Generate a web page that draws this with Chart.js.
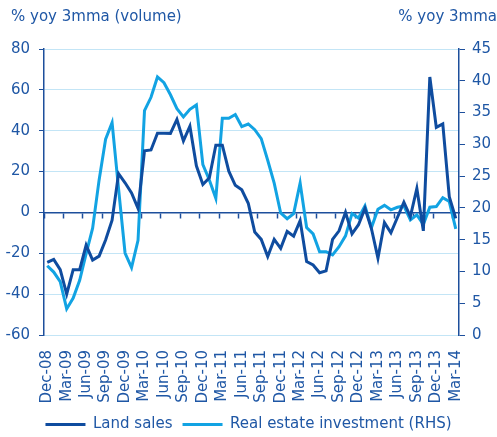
<!DOCTYPE html>
<html>
<head>
<meta charset="utf-8">
<script src="https://cdn.jsdelivr.net/npm/chart.js@4.4.1/dist/chart.umd.min.js"></script>
<style>
  body { margin: 0; background: #fff; }
  #wrap { position: relative; width: 497px; height: 437px; }
  .axis-title {
    position: absolute; top: 7px; line-height: 15px; white-space: nowrap;
    font: 15px 'DejaVu Sans', sans-serif; color: #1f57a5;
  }
  #titleLeft { left: 11px; }
  #titleRight { right: 0; }
</style>
</head>
<body>
<div id="wrap">
  <canvas id="chart"></canvas>
  <div class="axis-title" id="titleLeft">% yoy 3mma (volume)</div>
  <div class="axis-title" id="titleRight">% yoy 3mma</div>
</div>
<script>
// monthly categories, Dec-08 .. Mar-14
const months = [
  'Dec-08', 'Jan-09', 'Feb-09', 'Mar-09', 'Apr-09', 'May-09', 'Jun-09', 'Jul-09', 'Aug-09', 'Sep-09', 'Oct-09', 'Nov-09',
  'Dec-09', 'Jan-10', 'Feb-10', 'Mar-10', 'Apr-10', 'May-10', 'Jun-10', 'Jul-10', 'Aug-10', 'Sep-10', 'Oct-10', 'Nov-10',
  'Dec-10', 'Jan-11', 'Feb-11', 'Mar-11', 'Apr-11', 'May-11', 'Jun-11', 'Jul-11', 'Aug-11', 'Sep-11', 'Oct-11', 'Nov-11',
  'Dec-11', 'Jan-12', 'Feb-12', 'Mar-12', 'Apr-12', 'May-12', 'Jun-12', 'Jul-12', 'Aug-12', 'Sep-12', 'Oct-12', 'Nov-12',
  'Dec-12', 'Jan-13', 'Feb-13', 'Mar-13', 'Apr-13', 'May-13', 'Jun-13', 'Jul-13', 'Aug-13', 'Sep-13', 'Oct-13', 'Nov-13',
  'Dec-13', 'Jan-14', 'Feb-14', 'Mar-14'
];

// Land sales, % yoy 3mma (left axis)
const landSales = [
  -24.5, -23, -28, -40, -28, -28, -16, -23.3, -21.4, -13.5, -3.8, 19,
  14.5, 9.5, 2, 30.2, 30.6, 38.8, 38.8, 38.7, 45.5, 35, 42.2, 22.8,
  13.7, 17, 32.9, 32.9, 20.2, 13.3, 11.1, 4.5, -9.6, -13.2, -21.6, -13.2,
  -17.6, -9.3, -11.6, -4, -24, -25.7, -29.5, -28.6, -13.2, -9, 0, -10.5,
  -6, 2, -8, -22.4, -5, -10, -2.5, 5, -2, 11.7, -9, 66.3,
  41.6, 43.3, 7.7, -2.9
];

// Real estate investment, % yoy 3mma (right axis)
const realEstate = [
  10.9, 9.9, 8.4, 4.1, 5.8, 8.6, 12.8, 16.8, 24.4, 30.8, 33.4, 23,
  12.9, 10.6, 14.9, 35.3, 37.4, 40.6, 39.7, 37.8, 35.6, 34.3, 35.5, 36.2,
  26.8, 24.4, 21.5, 34.1, 34.1, 34.7, 32.8, 33.2, 32.3, 30.9, 27.5, 23.9,
  19.2, 18.3, 19.1, 23.9, 16.9, 15.9, 13.1, 13.1, 12.6, 13.9, 15.6, 19.1,
  18.4, 20.3, 16.9, 19.8, 20.4, 19.7, 20.1, 20.3, 18.1, 18.9, 17.4, 20.1,
  20.2, 21.6, 21, 16.7
];

const leftTicks = [-60, -40, -20, 0, 20, 40, 60, 80];
const rightTicks = [0, 5, 10, 15, 20, 25, 30, 35, 40, 45];

const darkBlue = '#0f4c9f';
const lightBlue = '#12a3e3';
const axisBlue = '#1d4f9c';
const textBlue = '#1f57a5';
const gridBlue = '#c3e5f6';

Chart.defaults.font.family = "'DejaVu Sans', sans-serif";
Chart.defaults.font.size = 15;
Chart.defaults.color = textBlue;

const ctx = document.getElementById('chart').getContext('2d');
new Chart(ctx, {
  type: 'line',
  data: {
    labels: months,
    datasets: [{
      label: 'Land sales',
      data: landSales,
      borderColor: darkBlue,
      backgroundColor: darkBlue,
      borderWidth: 3,
      pointRadius: 0,
      tension: 0,
      xAxisID: 'x',
      yAxisID: 'y'
    }, {
      label: 'Real estate investment (RHS)',
      data: realEstate,
      borderColor: lightBlue,
      backgroundColor: lightBlue,
      borderWidth: 3,
      pointRadius: 0,
      tension: 0,
      xAxisID: 'x',
      yAxisID: 'y1'
    }]
  },
  options: {
    responsive: true,
    maintainAspectRatio: false,
    animation: false,
    layout: { padding: { top: 49, left: 0, right: 0, bottom: -5 } },
    plugins: {
      tooltip: { enabled: false },
      legend: {
        position: 'bottom',
        labels: {
          usePointStyle: true,
          pointStyle: 'line',
          pointStyleWidth: 40,
          padding: 10,
          color: textBlue
        }
      }
    },
    scales: {
      // axis line sitting on zero, with quarterly tick marks
      x: {
        type: 'category',
        position: { y: 0 },
        offset: true,
        grid: {
          offset: true,
          drawOnChartArea: false,
          tickLength: 5,
          tickWidth: 1.5,
          tickColor: c => c.index % 3 === 0 ? axisBlue : 'rgba(0,0,0,0)'
        },
        border: { display: true, color: axisBlue, width: 1.5 },
        ticks: { display: false, autoSkip: false }
      },
      // labels at the bottom
      x2: {
        type: 'category',
        position: 'bottom',
        offset: true,
        grid: { display: false, drawTicks: false },
        border: { display: false },
        ticks: {
          autoSkip: false,
          minRotation: 90,
          maxRotation: 90,
          padding: 15,
          callback: (v, i) => i % 3 === 0 ? months[i] : ''
        },
        afterFit: s => { s.height = 72; }
      },
      y: {
        position: 'left',
        min: leftTicks[0],
        max: leftTicks[leftTicks.length - 1],
        ticks: { stepSize: 20, padding: 9 },
        grid: {
          color: c => c.tick && c.tick.value === 0 ? 'rgba(0,0,0,0)' : gridBlue,
          tickColor: axisBlue,
          tickLength: 5
        },
        border: { color: axisBlue, width: 1.5 },
        afterFit: s => { s.width = 44; }
      },
      y1: {
        position: 'right',
        min: rightTicks[0],
        max: rightTicks[rightTicks.length - 1],
        ticks: { stepSize: 5, padding: 7 },
        grid: { drawOnChartArea: false, tickColor: axisBlue, tickLength: 6 },
        border: { color: axisBlue, width: 1.5 },
        afterFit: s => { s.width = 38; }
      }
    }
  }
});
</script>
</body>
</html>
